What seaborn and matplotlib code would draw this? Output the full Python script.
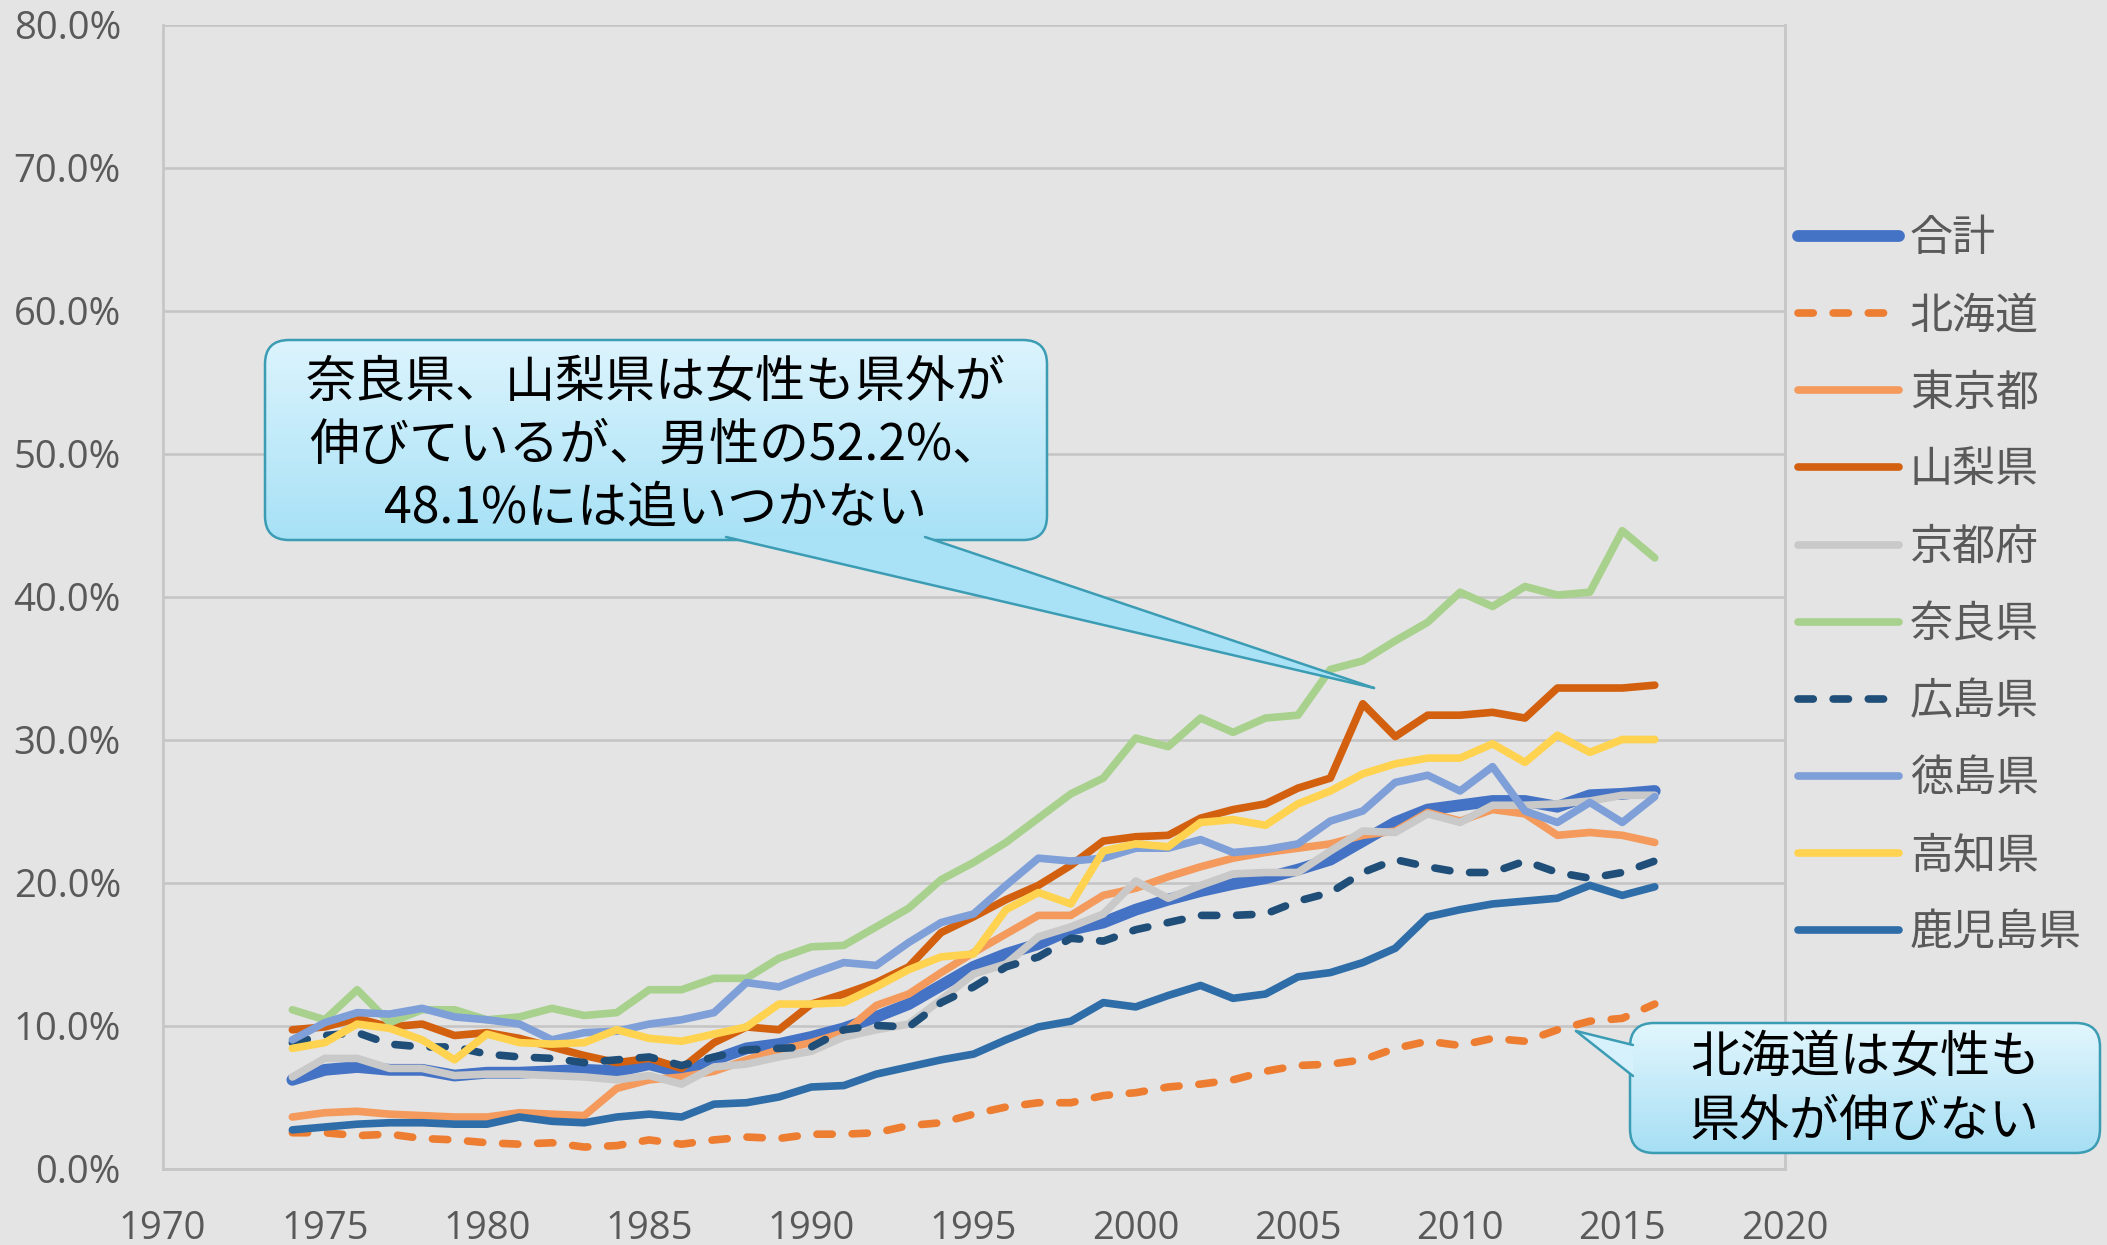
import numpy as np
import pandas as pd
import seaborn as sns
import matplotlib.pyplot as plt
from matplotlib.patches import FancyBboxPatch, Polygon
from matplotlib.colors import LinearSegmentedColormap
from matplotlib.ticker import FuncFormatter, MultipleLocator

# データ (%), 1974-2016
years = list(range(1974, 2017))

goukei = [6.2, 6.9, 7.1, 6.9, 6.9, 6.5, 6.7, 6.7, 6.8, 6.9,
          6.8, 7.3, 6.7, 7.6, 8.4, 8.7, 9.2, 9.8, 10.6, 11.5,
          12.8, 14.1, 15.0, 15.7, 16.7, 17.2, 18.1, 18.8, 19.4, 19.9,
          20.3, 20.9, 21.6, 22.9, 24.2, 25.1, 25.4, 25.7, 25.7, 25.3,
          26.1, 26.2, 26.4]
hokkaido = [2.5, 2.5, 2.3, 2.4, 2.1, 2.0, 1.8, 1.7, 1.8, 1.5,
            1.6, 2.0, 1.7, 2.0, 2.2, 2.1, 2.4, 2.4, 2.5, 3.0,
            3.2, 3.8, 4.3, 4.6, 4.6, 5.1, 5.3, 5.7, 5.9, 6.2,
            6.8, 7.2, 7.3, 7.6, 8.4, 8.9, 8.6, 9.1, 8.9, 9.7,
            10.3, 10.5, 11.5]
tokyo = [3.6, 3.9, 4.0, 3.8, 3.7, 3.6, 3.6, 3.9, 3.8, 3.7,
         5.6, 6.2, 6.4, 6.8, 7.6, 8.3, 8.8, 9.5, 11.4, 12.2,
         13.7, 15.1, 16.4, 17.7, 17.7, 19.1, 19.6, 20.4, 21.1, 21.7,
         22.1, 22.4, 22.7, 23.3, 23.6, 24.9, 24.3, 25.1, 24.8, 23.3,
         23.5, 23.3, 22.8]
yamanashi = [9.7, 9.9, 10.5, 9.9, 10.1, 9.3, 9.5, 9.1, 8.5, 7.9,
             7.4, 7.7, 7.0, 8.8, 9.9, 9.7, 11.5, 12.2, 13.0, 14.1,
             16.5, 17.6, 18.8, 19.8, 21.2, 22.9, 23.2, 23.3, 24.5, 25.1,
             25.5, 26.6, 27.3, 32.5, 30.2, 31.7, 31.7, 31.9, 31.5, 33.6,
             33.6, 33.6, 33.8]
kyoto = [6.4, 7.7, 7.7, 7.0, 7.0, 6.5, 6.6, 6.6, 6.5, 6.4,
         6.2, 6.5, 5.9, 7.1, 7.3, 7.8, 8.2, 9.2, 9.7, 10.1,
         11.8, 13.6, 14.3, 16.2, 16.9, 17.8, 20.1, 18.9, 19.8, 20.6,
         20.7, 20.7, 22.2, 23.6, 23.5, 24.8, 24.2, 25.4, 25.4, 25.5,
         25.7, 26.1, 26.1]
nara = [11.1, 10.4, 12.5, 10.2, 11.1, 11.1, 10.4, 10.6, 11.2, 10.7,
        10.9, 12.5, 12.5, 13.3, 13.3, 14.7, 15.5, 15.6, 16.9, 18.2,
        20.2, 21.4, 22.8, 24.5, 26.2, 27.3, 30.1, 29.5, 31.5, 30.5,
        31.5, 31.7, 34.9, 35.5, 36.9, 38.2, 40.3, 39.3, 40.7, 40.1,
        40.3, 44.6, 42.7]
hiroshima = [8.8, 9.3, 9.5, 8.7, 8.5, 8.5, 8.0, 7.8, 7.7, 7.4,
             7.6, 7.8, 7.2, 7.8, 8.3, 8.4, 8.5, 9.7, 10.0, 9.9,
             11.6, 12.7, 14.1, 14.8, 16.1, 15.9, 16.7, 17.2, 17.7, 17.7,
             17.8, 18.7, 19.3, 20.7, 21.6, 21.1, 20.7, 20.7, 21.5, 20.7,
             20.3, 20.7, 21.5]
tokushima = [9.0, 10.2, 10.9, 10.8, 11.2, 10.6, 10.4, 10.1, 9.0, 9.5,
             9.6, 10.1, 10.4, 10.9, 13.0, 12.7, 13.6, 14.4, 14.2, 15.8,
             17.2, 17.8, 19.8, 21.7, 21.5, 21.7, 22.4, 22.4, 23.0, 22.1,
             22.3, 22.7, 24.3, 25.0, 27.0, 27.5, 26.4, 28.1, 25.0, 24.2,
             25.6, 24.2, 26.0]
kochi = [8.4, 8.8, 10.1, 9.8, 9.0, 7.6, 9.4, 8.8, 8.7, 8.8,
         9.7, 9.1, 8.9, 9.4, 9.9, 11.5, 11.5, 11.6, 12.7, 13.9,
         14.8, 15.0, 18.1, 19.3, 18.5, 22.2, 22.7, 22.5, 24.2, 24.4,
         24.0, 25.5, 26.4, 27.6, 28.3, 28.7, 28.7, 29.7, 28.4, 30.3,
         29.1, 30.0, 30.0]
kagoshima = [2.7, 2.9, 3.1, 3.2, 3.2, 3.1, 3.1, 3.6, 3.3, 3.2,
             3.6, 3.8, 3.6, 4.5, 4.6, 5.0, 5.7, 5.8, 6.6, 7.1,
             7.6, 8.0, 9.0, 9.9, 10.3, 11.6, 11.3, 12.1, 12.8, 11.9,
             12.2, 13.4, 13.7, 14.4, 15.4, 17.6, 18.1, 18.5, 18.7, 18.9,
             19.8, 19.1, 19.7]

names = ['合計', '北海道', '東京都', '山梨県', '京都府',
         '奈良県', '広島県', '徳島県', '高知県', '鹿児島県']
series = [goukei, hokkaido, tokyo, yamanashi, kyoto,
          nara, hiroshima, tokushima, kochi, kagoshima]
colors = ['#4472C4', '#ED7D31', '#F39A5C', '#D2600F', '#C9C9C9',
          '#A9D18E', '#1F4E79', '#7E9FD8', '#FFD34F', '#2E6DA8']
dashed = [False, True, False, False, False, False, True, False, False, False]

df = pd.DataFrame({'year': years})
for n, s in zip(names, series):
    df[n] = s

bg = '#e4e4e4'
sns.set_theme(style='white')
plt.rcParams['font.family'] = ['Noto Sans CJK JP', 'DejaVu Sans']

fig = plt.figure(figsize=(21.07, 12.45), dpi=100, facecolor=bg)
ax = fig.add_axes([162.6 / 2107, 1 - 1168.5 / 1245,
                   (1784.5 - 162.6) / 2107, (1168.5 - 24.5) / 1245])
ax.set_facecolor(bg)

for n, c, d in zip(names, colors, dashed):
    lw = 8.5 if n == '合計' else 5.5
    kw = dict(solid_capstyle='round', dash_capstyle='round')
    if d:
        kw['linestyle'] = (0, (2.0, 2.6))
    sns.lineplot(data=df, x='year', y=n, ax=ax, color=c, lw=lw,
                 label=n, **kw)

ax.set_xlim(1970, 2020)
ax.set_ylim(0, 80)
ax.xaxis.set_major_locator(MultipleLocator(5))
ax.yaxis.set_major_locator(MultipleLocator(10))
ax.yaxis.set_major_formatter(FuncFormatter(lambda v, p: f'{v:.1f}%'))
ax.set_xlabel('')
ax.set_ylabel('')
ax.grid(axis='y', color='#c4c4c4', lw=1.8)
ax.set_axisbelow(True)
ax.tick_params(length=0, labelsize=27.5, labelcolor='#595959')
ax.tick_params(axis='y', pad=30)
ax.tick_params(axis='x', pad=30)
for lab in ax.get_xticklabels() + ax.get_yticklabels():
    lab.set_fontfamily('Open Sans')
ax.spines['top'].set_visible(False)
for s in ['left', 'right', 'bottom']:
    ax.spines[s].set_color('#c6c6c6')
    ax.spines[s].set_linewidth(2)

leg = ax.legend(loc='upper left', bbox_to_anchor=(1798 / 2107, 1 - 217 / 1245),
                bbox_transform=fig.transFigure, frameon=False, fontsize=31,
                handlelength=2.35, handletextpad=0.25, labelspacing=0.77,
                borderpad=0, borderaxespad=0, labelcolor='#595959')

# 吹き出し
ov = fig.add_axes([0, 0, 1, 1], zorder=5)
ov.set_axis_off()
ov.patch.set_alpha(0)
edge = '#3B9CB4'


def callout(x0, y0, x1, y1, tail, c_top, c_bot, tail_col):
    box = FancyBboxPatch((x0, y0), x1 - x0, y1 - y0,
                         boxstyle='round,pad=0,rounding_size=24',
                         fc='none', ec=edge, lw=1.8, zorder=2)
    ov.add_patch(box)
    cmap = LinearSegmentedColormap.from_list('g', [c_top, c_bot])
    grad = np.linspace(0, 1, 256).reshape(-1, 1)
    im = ov.imshow(grad, cmap=cmap, extent=[x0, x1, y1, y0],
                   aspect='auto', zorder=1)
    im.set_clip_path(box)
    ov.add_patch(Polygon(tail, closed=True, fc=tail_col, ec='none', zorder=3))
    ov.plot([tail[0][0], tail[1][0]], [tail[0][1], tail[1][1]],
            color=edge, lw=1.8, zorder=4)
    ov.plot([tail[1][0], tail[2][0]], [tail[1][1], tail[2][1]],
            color=edge, lw=1.8, zorder=4)


callout(265, 340, 1047, 540,
        [(726, 537), (1374, 688), (925, 537)],
        '#dcf4fd', '#a7e1f6', '#a9e2f7')
callout(1630, 1023, 2100, 1153,
        [(1633, 1045), (1576, 1031), (1633, 1076)],
        '#e2f6fd', '#a6dff4', '#d6f1fb')

txt = dict(ha='center', va='center', fontsize=36, color='black',
           fontweight='normal', zorder=6)
ov.text(656, 383, '奈良県、山梨県は女性も県外が', **txt)
ov.text(656, 446, '伸びているが、男性の52.2%、', **txt)
ov.text(656, 508, '48.1%には追いつかない', **txt)
ov.text(1865, 1058, '北海道は女性も', **txt)
ov.text(1865, 1122, '県外が伸びない', **txt)

ov.set_xlim(0, 2107)
ov.set_ylim(1245, 0)

fig.savefig('out.png', dpi=100, facecolor=bg)
